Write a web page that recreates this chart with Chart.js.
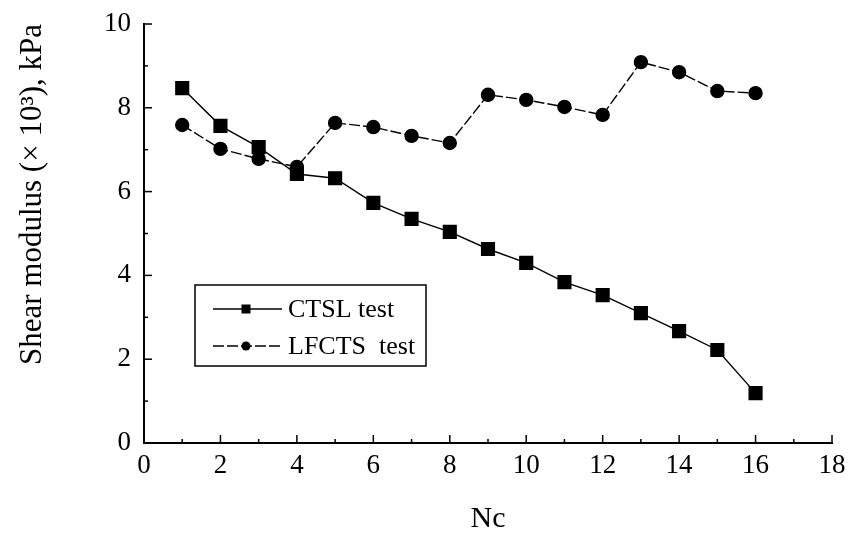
<!DOCTYPE html>
<html>
<head>
<meta charset="utf-8">
<script src="https://cdn.jsdelivr.net/npm/chart.js@4/dist/chart.umd.min.js"></script>
<style>
html,body{margin:0;padding:0;background:#fff;}
#wrap{width:848px;height:537px;}
</style>
</head>
<body>
<div id="wrap"><canvas id="c" width="848" height="537"></canvas></div>
<script>
const cycles = [1,2,3,4,5,6,7,8,9,10,11,12,13,14,15,16];
const ctslValues = [8.47,7.57,7.06,6.42,6.32,5.73,5.35,5.04,4.63,4.30,3.84,3.53,3.10,2.67,2.22,1.19];
const lfctsValues = [7.59,7.02,6.78,6.59,7.64,7.54,7.33,7.16,8.31,8.19,8.02,7.83,9.09,8.85,8.40,8.35];
const seriesNames = ['CTSL test', 'LFCTS  test'];
const xTitle = 'Nc';
const yTitle = 'Shear modulus (\u00D7 10\u00B3), kPa';

const FONT = "'Liberation Serif', 'DejaVu Serif', serif";

function pts(vals){ return cycles.map((x,i)=>({x:x,y:vals[i]})); }

const tickPlugin = {
  id: 'inwardTicks',
  afterDraw(chart){
    const ctx = chart.ctx, xs = chart.scales.x, ys = chart.scales.y, a = chart.chartArea;
    ctx.save();
    ctx.strokeStyle = '#000';
    ctx.lineWidth = 1.5;
    for (let v = xs.min; v <= xs.max; v += 1) {
      const px = xs.getPixelForValue(v);
      const len = (v % 2 === 0) ? 8 : 4;
      ctx.beginPath(); ctx.moveTo(px, a.bottom); ctx.lineTo(px, a.bottom - len); ctx.stroke();
    }
    for (let v = ys.min; v <= ys.max; v += 1) {
      const py = ys.getPixelForValue(v);
      const len = (v % 2 === 0) ? 8 : 4;
      ctx.beginPath(); ctx.moveTo(a.left, py); ctx.lineTo(a.left + len, py); ctx.stroke();
    }
    // legend box
    const bx = a.left + 51, by = a.top + 261, bw = 231, bh = 81;
    ctx.lineWidth = 1.5;
    ctx.strokeRect(bx, by, bw, bh);
    const rows = [by + 24, by + 61];
    chart.data.datasets.forEach((ds, i) => {
      const y = rows[i];
      const x0 = bx + 18, x1 = bx + 87, xm = bx + 51;
      ctx.setLineDash(ds.borderDash || []);
      ctx.lineWidth = 1.3;
      ctx.beginPath(); ctx.moveTo(x0, y); ctx.lineTo(x1, y); ctx.stroke();
      ctx.setLineDash([]);
      ctx.fillStyle = '#000';
      if (ds.pointStyle === 'rect') { ctx.fillRect(xm - 4.5, y - 4.5, 9, 9); }
      else { ctx.beginPath(); ctx.arc(xm, y, 4.5, 0, Math.PI*2); ctx.fill(); }
      ctx.font = "26px " + FONT;
      ctx.textBaseline = 'middle';
      ctx.textAlign = 'left';
      ctx.fillText(ds.label, bx + 93, y + 1);
    });
    ctx.restore();
  }
};

new Chart(document.getElementById('c'), {
  type: 'line',
  data: {
    datasets: [
      { label: seriesNames[0], data: pts(ctslValues), borderColor:'#000', backgroundColor:'#000',
        borderWidth:1.4, pointStyle:'rect', pointRadius:9, pointHoverRadius:9, tension:0 },
      { label: seriesNames[1], data: pts(lfctsValues), borderColor:'#000', backgroundColor:'#000',
        borderWidth:1.4, borderDash:[11,3], pointStyle:'circle', pointRadius:6.5, pointHoverRadius:6.5, tension:0 }
    ]
  },
  options: {
    responsive:false, animation:false,
    layout:{padding:{top:24,right:16,left:0,bottom:0}},
    plugins:{legend:{display:false}, tooltip:{enabled:false}},
    scales:{
      x:{ type:'linear', min:0, max:18,
        ticks:{stepSize:2, color:'#000', font:{family:FONT, size:27}, padding:7},
        grid:{display:false, drawTicks:false},
        border:{display:true, color:'#000', width:2},
        title:{display:true, text:xTitle, color:'#000', font:{family:FONT, size:30}, padding:{top:0,bottom:0}},
        afterFit(s){ s.height = 94; s.paddingLeft = 0; s.paddingRight = 0; }
      },
      y:{ min:0, max:10,
        ticks:{stepSize:2, color:'#000', font:{family:FONT, size:27}, padding:13},
        grid:{display:false, drawTicks:false},
        border:{display:true, color:'#000', width:2},
        title:{display:true, text:yTitle, align:'end', color:'#000', font:{family:FONT, size:31}, padding:{top:14,bottom:0}},
        afterFit(s){ s.width = 144; s.paddingTop = 0; s.paddingBottom = 0; }
      }
    }
  },
  plugins:[tickPlugin]
});
</script>
</body>
</html>
